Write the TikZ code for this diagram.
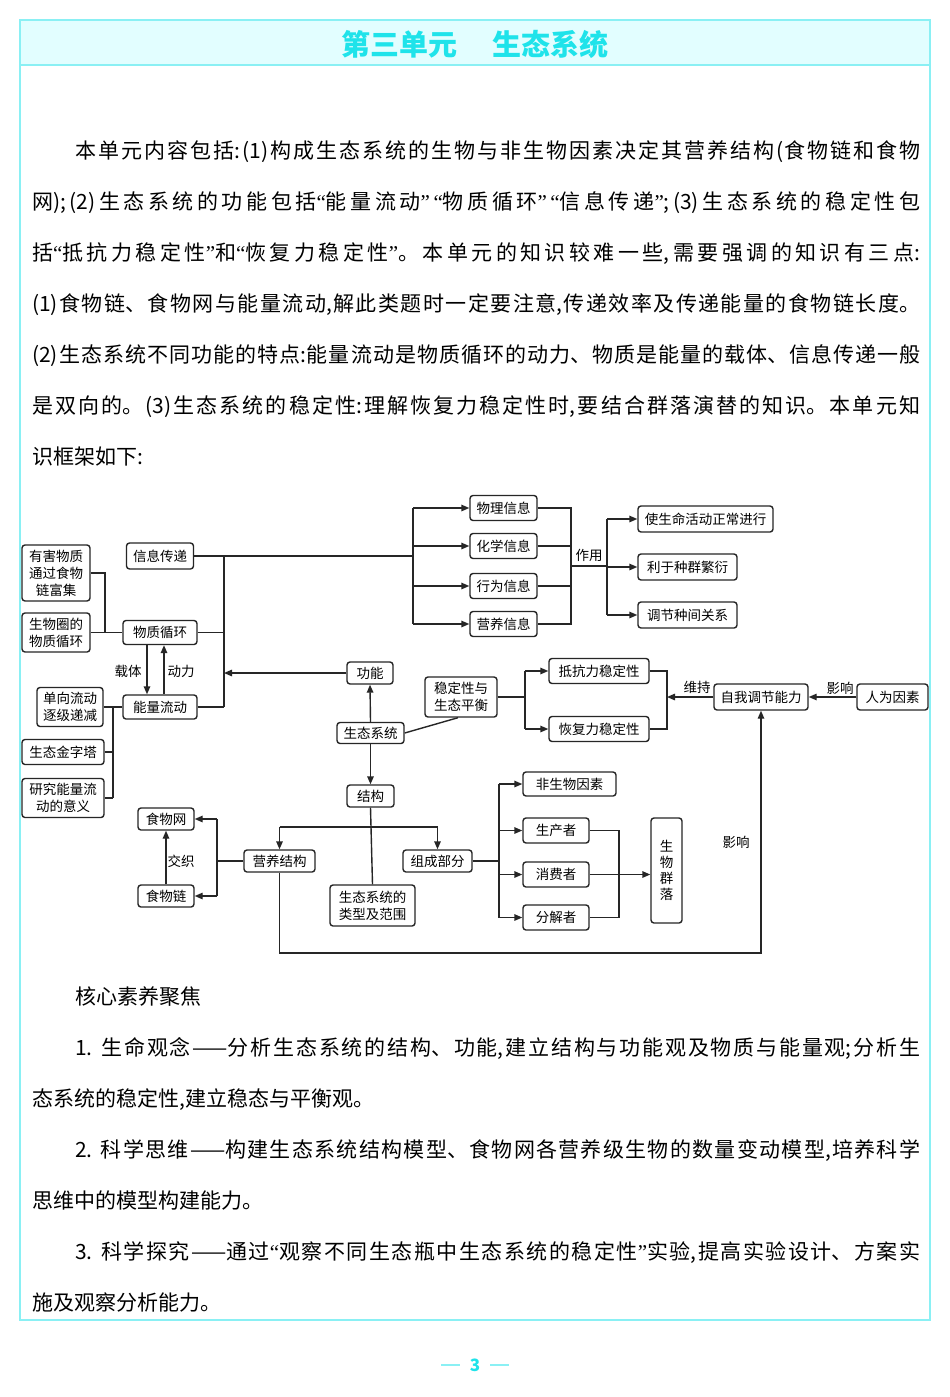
\documentclass[tikz,border=0pt]{standalone}
\usepackage{fontspec}
\setmainfont{Noto Sans CJK SC}
\newfontfamily\qfont{Liberation Serif}
\newcommand{\myLQ}{{\qfont “}}
\newcommand{\myRQ}{{\qfont ”}}
\usetikzlibrary{arrows.meta,calc}
\definecolor{titlecyan}{HTML}{1FE3EA}
\definecolor{framecyan}{HTML}{8AF0F4}
\definecolor{bandfill}{HTML}{E2FEFF}
\XeTeXlinebreaklocale "zh"
\XeTeXlinebreakskip = 0pt plus 5pt
\begin{document}
\begin{tikzpicture}[x=1pt,y=-1pt,
  box/.style={draw=black!85, line width=1.4pt, rounded corners=3pt, inner sep=1pt, align=center, font=\fontsize{13.5}{17}\selectfont},
  conn/.style={line width=1.4pt, draw=black!85},
  arr/.style={conn, -{Triangle[length=8pt,width=6.5pt]}},
  lbl/.style={font=\fontsize{13.5}{16}\selectfont, inner sep=0pt},
  bodytext/.style={anchor=base west, inner sep=0pt}]
\useasboundingbox (0,0) rectangle (950,1397);
\fill[white] (0,0) rectangle (950,1397);
% frame and title band
\draw[framecyan, line width=1.5pt] (20,20) rectangle (930,1320);
\filldraw[fill=bandfill, draw=framecyan, line width=1.2pt] (20,20) rectangle (930,65);
\node[font=\fontsize{29}{31}\selectfont\bfseries, text=titlecyan] (title) at (475,44) {第三单元\hspace{35pt}生态系统};
% body text
\node[bodytext] (intro) at (32,158) {\parbox[t]{888pt}{\fontsize{21}{51}\selectfont\hspace*{43pt}本单元内容包括:(1)构成生态系统的生物与非生物因素决定其营养结构(食物链和食物\linebreak 网);(2)生态系统的功能包括\myLQ 能量流动\myRQ\myLQ 物质循环\myRQ\myLQ 信息传递\myRQ;(3)生态系统的稳定性包\linebreak 括\myLQ 抵抗力稳定性\myRQ 和\myLQ 恢复力稳定性\myRQ。本单元的知识较难一些,需要强调的知识有三点:\linebreak (1)食物链、食物网与能量流动,解此类题时一定要注意,传递效率及传递能量的食物链长度。\linebreak (2)生态系统不同功能的特点:能量流动是物质循环的动力、物质是能量的载体、信息传递一般\linebreak 是双向的。(3)生态系统的稳定性:理解恢复力稳定性时,要结合群落演替的知识。本单元知\linebreak 识框架如下:}};
\node[bodytext] (core) at (32,1004) {\parbox[t]{888pt}{\fontsize{21}{51}\selectfont\hspace*{43pt}核心素养聚焦\par
\hspace*{43pt}1. 生命观念——分析生态系统的结构、功能,建立结构与功能观及物质与能量观;分析生\linebreak 态系统的稳定性,建立稳态与平衡观。\par
\hspace*{43pt}2. 科学思维——构建生态系统结构模型、食物网各营养级生物的数量变动模型,培养科学\linebreak 思维中的模型构建能力。\par
\hspace*{43pt}3. 科学探究——通过\myLQ 观察不同生态瓶中生态系统的稳定性\myRQ 实验,提高实验设计、方案实\linebreak 施及观察分析能力。}};
% page number
\node[font=\fontsize{17}{19}\selectfont\bfseries, text=titlecyan] (pg) at (475,1365) {3};
\draw[framecyan, line width=1.3pt] (441,1365) -- (460,1365);
\draw[framecyan, line width=1.3pt] (490,1365) -- (509,1365);

% ===== diagram nodes =====
\node[box, minimum width=67pt, minimum height=26pt] (xx) at (160,556) {信息传递};
\node[box, minimum width=68pt, minimum height=56pt] (yh) at (56,573) {有害物质\\通过食物\\链富集};
\node[box, minimum width=68pt, minimum height=39pt] (swq) at (56,632.5) {生物圈的\\物质循环};
\node[box, minimum width=74pt, minimum height=24pt] (wz) at (160,632.5) {物质循环};
\node[box, minimum width=74pt, minimum height=24pt] (nl) at (160,707) {能量流动};
\node[box, minimum width=66pt, minimum height=39pt] (dx) at (70,707) {单向流动\\逐级递减};
\node[box, minimum width=82pt, minimum height=25pt] (jzt) at (63,752) {生态金字塔};
\node[box, minimum width=82pt, minimum height=39pt] (yj) at (63,798) {研究能量流\\动的意义};
\node[box, minimum width=67pt, minimum height=25pt] (wl) at (503.5,508) {物理信息};
\node[box, minimum width=67pt, minimum height=25pt] (hx) at (503.5,546) {化学信息};
\node[box, minimum width=67pt, minimum height=25pt] (xw) at (503.5,586) {行为信息};
\node[box, minimum width=67pt, minimum height=25pt] (yy) at (503.5,624) {营养信息};
\node[box, minimum width=135pt, minimum height=26pt] (sm) at (705.5,519) {使生命活动正常进行};
\node[box, minimum width=99pt, minimum height=26pt] (lz) at (687.5,567) {利于种群繁衍};
\node[box, minimum width=99pt, minimum height=26pt] (tj) at (687.5,615) {调节种间关系};
\node[box, minimum width=46pt, minimum height=22pt] (gn) at (370,673) {功能};
\node[box, minimum width=67pt, minimum height=21pt] (st) at (370.5,733) {生态系统};
\node[box, minimum width=72pt, minimum height=40pt] (wd) at (461,697) {稳定性与\\生态平衡};
\node[box, minimum width=100pt, minimum height=25pt] (dk) at (599,671) {抵抗力稳定性};
\node[box, minimum width=100pt, minimum height=25pt] (hf) at (599,729) {恢复力稳定性};
\node[box, minimum width=94pt, minimum height=26pt] (zw) at (761,697) {自我调节能力};
\node[box, minimum width=71pt, minimum height=26pt] (rw) at (892.5,697) {人为因素};
\node[box, minimum width=47pt, minimum height=22pt] (jg) at (370.5,796) {结构};
\node[box, minimum width=71pt, minimum height=22pt] (yyjg) at (279.5,861) {营养结构};
\node[box, minimum width=69pt, minimum height=22pt] (zc) at (437.5,861) {组成部分};
\node[box, minimum width=85pt, minimum height=41pt] (lx) at (372.5,905.5) {生态系统的\\类型及范围};
\node[box, minimum width=56pt, minimum height=22pt] (sww) at (166,819) {食物网};
\node[box, minimum width=56pt, minimum height=22pt] (swl) at (166,896) {食物链};
\node[box, minimum width=93pt, minimum height=24pt] (fsw) at (569.5,784) {非生物因素};
\node[box, minimum width=66pt, minimum height=25pt] (scz) at (556,830.5) {生产者};
\node[box, minimum width=66pt, minimum height=25pt] (xfz) at (556,874.5) {消费者};
\node[box, minimum width=66pt, minimum height=25pt] (fjz) at (556,917.5) {分解者};
\node[box, minimum width=31pt, minimum height=105pt, font=\fontsize{13.5}{16}\selectfont] (ql) at (666.5,870.5) {生\\物\\群\\落};

% ===== labels =====
\node[lbl] (lzt) at (128,671) {载体};
\node[lbl] (ldl) at (181,671) {动力};
\node[lbl] (lzy) at (589,555) {作用};
\node[lbl] (lws) at (697,687) {维持};
\node[lbl] (lyx1) at (840,688) {影响};
\node[lbl] (lyx2) at (736,842) {影响};
\node[lbl] (ljz) at (181,861) {交织};

% ===== coordinates =====
\coordinate (a1) at (105,573);
\coordinate (a2) at (105,632.5);
\coordinate (t1) at (224,556);
\coordinate (t2) at (224,632.5);
\coordinate (t3) at (224,673);
\coordinate (t4) at (224,707);
\coordinate (b1) at (113,707);
\coordinate (b2) at (113,752);
\coordinate (b3) at (113,798);
\coordinate (i0) at (413,556);
\coordinate (i1) at (413,508);
\coordinate (i4) at (413,624);
\coordinate (r1) at (571,508);
\coordinate (r4) at (571,624);
\coordinate (rm) at (571,566);
\coordinate (e0) at (607,566);
\coordinate (e1) at (607,519);
\coordinate (e3) at (607,615);
\coordinate (s0) at (525,697);
\coordinate (s1) at (525,671);
\coordinate (s2) at (525,729);
\coordinate (k1) at (667,671);
\coordinate (k2) at (667,729);
\coordinate (k0) at (667,697);
\coordinate (h1) at (279.5,827);
\coordinate (h2) at (437.5,827);
\coordinate (f0) at (217,861);
\coordinate (f1) at (217,819);
\coordinate (f2) at (217,896);
\coordinate (c0) at (499,861);
\coordinate (c1) at (499,784);
\coordinate (c4) at (499,917.5);
\coordinate (p1) at (619,830.5);
\coordinate (p2) at (619,917.5);
\coordinate (g1) at (279.5,953);
\coordinate (g2) at (761,953);

% ===== connectors =====
\draw[conn] (yh.east) -- (a1) -- (a2);
\draw[conn] (swq.east) -- (wz.west);
\draw[conn] (xx.east) -- (i0);
\draw[conn] (t1) -- (t4);
\draw[conn] (wz.east) -- (t2);
\draw[conn] (nl.east) -- (t4);
\draw[arr] (gn.west) -- (t3);
\draw[arr] ($(wz.south)+(-13,0)$) -- ($(nl.north)+(-13,0)$);
\draw[arr] ($(nl.north)+(4,0)$) -- ($(wz.south)+(4,0)$);
\draw[conn] (dx.east) -- (nl.west);
\draw[conn] (b1) -- (b3);
\draw[conn] (jzt.east) -- (b2);
\draw[conn] (yj.east) -- (b3);
% information
\draw[conn] (i1) -- (i4);
\draw[arr] (i1) -- (wl.west);
\draw[arr] (i1 |- hx.west) -- (hx.west);
\draw[arr] (i1 |- xw.west) -- (xw.west);
\draw[arr] (i4) -- (yy.west);
\draw[conn] (wl.east) -- (r1) -- (r4) -- (yy.east);
\draw[conn] (hx.east) -- (r1 |- hx.east);
\draw[conn] (xw.east) -- (r1 |- xw.east);
\draw[conn] (rm) -- (e0);
\draw[conn] (e1) -- (e3);
\draw[arr] (e1) -- (sm.west);
\draw[arr] (e1 |- lz.west) -- (lz.west);
\draw[arr] (e3) -- (tj.west);
% ecosystem core
\draw[arr] (st.north) -- (gn.south);
\draw[conn] (st.east) -- ($(wd.south)+(-3,0)$);
\draw[conn] (wd.east) -- (s0);
\draw[conn] (s1) -- (s2);
\draw[arr] (s1) -- (dk.west);
\draw[arr] (s2) -- (hf.west);
\draw[conn] (dk.east) -- (k1) -- (k2) -- (hf.east);
\draw[arr] (zw.west) -- (k0);
\draw[arr] (rw.west) -- (zw.east);
\draw[arr] (st.south) -- (jg.north);
\draw[conn] (jg.south) -- (lx.north);
\draw[conn] (h1) -- (h2);
\draw[arr] (h1) -- (yyjg.north);
\draw[arr] (h2) -- (zc.north);
% trophic structure
\draw[conn] (yyjg.west) -- (f0);
\draw[conn] (f1) -- (f2);
\draw[arr] (f1) -- (sww.east);
\draw[arr] (f2) -- (swl.east);
\draw[arr] (swl.north) -- (sww.south);
\draw[arr] (yyjg.south) -- (g1) -- (g2) -- (zw.south);
% components
\draw[conn] (zc.east) -- (c0);
\draw[conn] (c1) -- (c4);
\draw[arr] (c1) -- (fsw.west);
\draw[arr] (c1 |- scz.west) -- (scz.west);
\draw[arr] (c1 |- xfz.west) -- (xfz.west);
\draw[arr] (c4) -- (fjz.west);
\draw[conn] (scz.east) -- (p1) -- (p2) -- (fjz.east);
\draw[arr] (xfz.east) -- (xfz.east -| ql.west);
\end{tikzpicture}
\end{document}
